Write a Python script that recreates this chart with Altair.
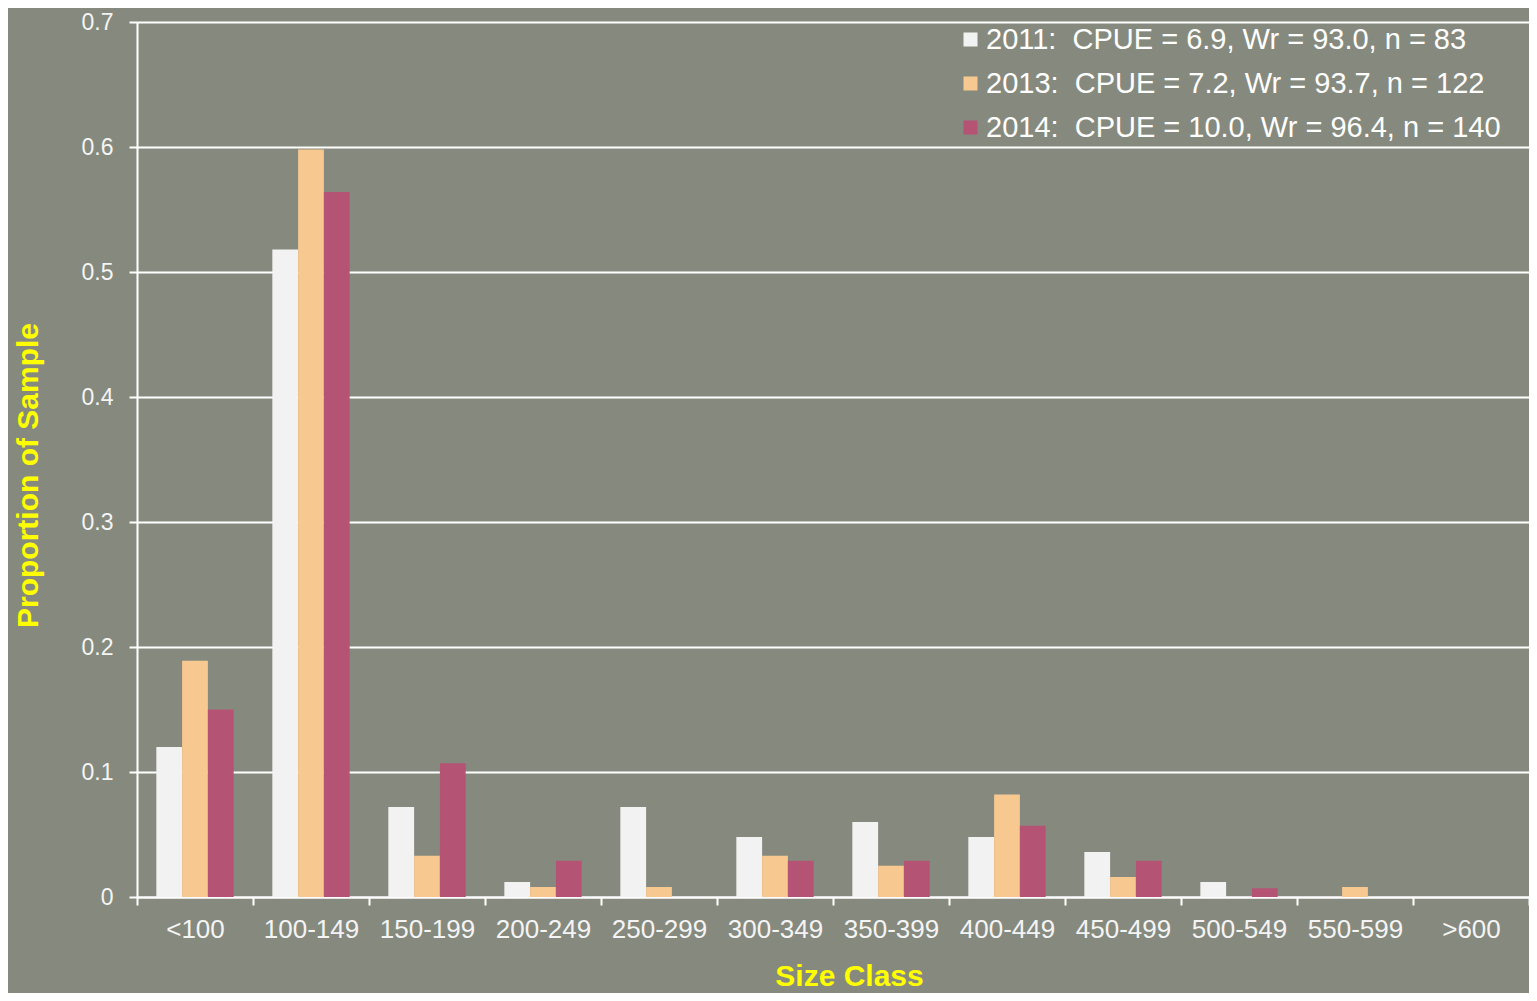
import altair as alt
import pandas as pd

categories = ["<100", "100-149", "150-199", "200-249", "250-299", "300-349",
              "350-399", "400-449", "450-499", "500-549", "550-599", ">600"]
series_labels = [
    "2011:\u00a0 CPUE = 6.9, Wr = 93.0, n = 83",
    "2013:\u00a0 CPUE = 7.2, Wr = 93.7, n = 122",
    "2014:\u00a0 CPUE = 10.0, Wr = 96.4, n = 140",
]
values_2011 = [0.120, 0.518, 0.072, 0.012, 0.072, 0.048, 0.060, 0.048, 0.036, 0.012, 0.0, 0.0]
values_2013 = [0.189, 0.598, 0.033, 0.008, 0.008, 0.033, 0.025, 0.082, 0.016, 0.0, 0.008, 0.0]
values_2014 = [0.150, 0.564, 0.107, 0.029, 0.0, 0.029, 0.029, 0.057, 0.029, 0.007, 0.0, 0.0]
colors = ["#f2f2f2", "#f7c88f", "#b55374"]

rows = []
for lab, vals in zip(series_labels, [values_2011, values_2013, values_2014]):
    for c, v in zip(categories, vals):
        rows.append({"size": c, "series": lab, "value": v})
df = pd.DataFrame(rows)

FONT = "Liberation Sans"

chart = alt.Chart(df).mark_bar().encode(
    x=alt.X("size:N", sort=categories,
            scale=alt.Scale(paddingInner=0, paddingOuter=0),
            axis=alt.Axis(title="Size Class", labelAngle=0, tickBand="extent",
                          domainColor="white", domainWidth=2,
                          tickColor="white", tickWidth=2, tickSize=8,
                          labelColor="#f4f4f4", labelFontSize=26, labelFont=FONT,
                          labelPadding=11,
                          titleColor="#ffff00", titleFontSize=30, titleFont=FONT,
                          titleFontWeight="bold", titleX=712, titleY=79,
                          titleBaseline="middle", titleAnchor="start", titleAlign="center")),
    xOffset=alt.XOffset("series:N", sort=series_labels,
                        scale=alt.Scale(paddingInner=0, paddingOuter=0.75)),
    y=alt.Y("value:Q", scale=alt.Scale(domain=[0, 0.7], nice=False),
            axis=alt.Axis(title="Proportion of Sample",
                          values=[0, 0.1, 0.2, 0.3, 0.4, 0.5, 0.6, 0.7],
                          format=".1~f", grid=True, gridColor="white", gridWidth=2,
                          gridOpacity=1,
                          domainColor="white", domainWidth=2,
                          tickColor="white", tickWidth=2, tickSize=8,
                          labelColor="#f4f4f4", labelFontSize=23, labelFont=FONT,
                          labelPadding=16,
                          titleColor="#ffff00", titleFontSize=30, titleFont=FONT,
                          titleFontWeight="bold", titleX=-109, titleY=453,
                          titleAngle=-90, titleBaseline="middle", titleAlign="center",
                          titleAnchor="start")),
    color=alt.Color("series:N", sort=series_labels,
                    scale=alt.Scale(domain=series_labels, range=colors),
                    legend=alt.Legend(title=None, orient="none", legendX=819, legendY=3,
                                      symbolType="square", symbolSize=196,
                                      symbolStrokeWidth=0, symbolOpacity=1,
                                      labelColor="white", labelFontSize=29,
                                      labelFont=FONT, labelOffset=1,
                                      rowPadding=14, padding=0,
                                      labelLimit=700)),
).properties(
    width=1392, height=875,
    background="#868a7e",
    padding={"left": 129, "top": 14, "right": 0, "bottom": 96},
    autosize=alt.AutoSizeParams(type="none"),
).configure_view(stroke=None)

chart.save("out.html", embed_options={"renderer": "svg", "actions": False})
